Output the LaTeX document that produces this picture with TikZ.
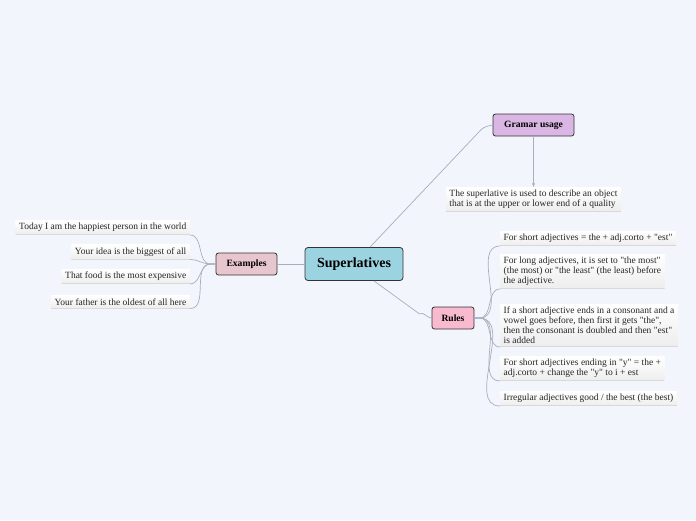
\documentclass[tikz,border=0pt]{standalone}
\usepackage{fontspec}
\setmainfont{Liberation Serif}[Ligatures=TeXOff]
\definecolor{bgblue}{RGB}{243, 245, 252}
\definecolor{centralblue}{RGB}{155, 212, 224}
\definecolor{grampurple}{RGB}{218, 182, 228}
\definecolor{expink}{RGB}{232, 198, 206}
\definecolor{rulepink}{RGB}{248, 186, 206}
\definecolor{linkgray}{RGB}{168, 174, 188}
\usetikzlibrary{arrows.meta, positioning, calc}

\begin{document}
\begin{tikzpicture}[x=1pt, y=-1pt,
  central/.style={draw=black!80, fill=centralblue, rounded corners=3pt, line width=0.8pt,
    minimum width=98pt, minimum height=33pt, font=\fontsize{14}{16}\selectfont\bfseries},
  topic/.style={draw=black!80, rounded corners=2.5pt, line width=0.8pt,
    minimum height=22pt, inner xsep=2pt, font=\fontsize{9.6}{11}\selectfont\bfseries},
  leaf/.style={top color=white, bottom color=black!7, draw=none, inner xsep=3.5pt, inner ysep=3pt,
    font=\fontsize{9.5}{10}\selectfont, text=black!85,
    path picture={\draw[black!15, line width=1.2pt] (path picture bounding box.south west) -- (path picture bounding box.south east);}},
  link/.style={draw=linkgray, line width=0.7pt},
]
  \fill[bgblue] (0,0) rectangle (696,520);
  \useasboundingbox (0,0) rectangle (696,520);

  % main topics
  \node[central] (super) at (354,264) {Superlatives};
  \node[topic, fill=grampurple, minimum width=81pt] (gram) at (533.5,125) {Gramar usage};
  \node[topic, fill=expink, minimum width=61pt] (ex) at (246.5,264) {Examples};
  \node[topic, fill=rulepink, minimum width=42pt] (rules) at (453,318) {Rules};

  % grammar note
  \node[leaf, anchor=north, align=left] (gramtext) at (533.5,187)
    {The superlative is used to describe an object\\that is at the upper or lower end of a quality};

  % examples
  \node[leaf, anchor=south east] (ex1) at (190,235) {Today I am the happiest person in the world};
  \node[leaf, anchor=south east] (ex2) at (190,259.5) {Your idea is the biggest of all};
  \node[leaf, anchor=south east] (ex3) at (190,284) {That food is the most expensive};
  \node[leaf, anchor=south east] (ex4) at (190,308.5) {Your father is the oldest of all here};

  % rules
  \node[leaf, anchor=south west] (r1) at (500,246) {For short adjectives = the + adj.corto + "est"};
  \node[leaf, anchor=south west, align=left] (r2) at (500,289)
    {For long adjectives, it is set to "the most"\\(the most) or "the least" (the least) before\\the adjective.};
  \node[leaf, anchor=south west, align=left] (r3) at (500,347)
    {If a short adjective ends in a consonant and a\\vowel goes before, then first it gets "the",\\then the consonant is doubled and then "est"\\is added};
  \node[leaf, anchor=south west, align=left] (r4) at (500,381)
    {For short adjectives ending in "y" = the +\\adj.corto + change the "y" to i + est};
  \node[leaf, anchor=south west] (r5) at (500,406) {Irregular adjectives good / the best (the best)};

  % connectors
  \draw[link, rounded corners=4pt] ([xshift=16pt]super.north) -- ($(gram.west)+(-9,2)$) -- (gram.west);
  \draw[link] ([xshift=20pt]super.south) -- ($(rules.west)+(-12,-4)$) to[out=35,in=180] (rules.west);
  \draw[link] (super.west) -- (ex.west -| ex.east);
  \draw[link, -{Stealth[length=4pt,width=3pt]}] (gram.south) -- (gramtext.north);
  \foreach \leafname in {ex1,ex2,ex3,ex4}
    \draw[link] (ex.west) -- ++(-5,0) to[out=180,in=0] (\leafname.south east);
  \foreach \leafname in {r1,r2,r3,r4,r5}
    \draw[link] (rules.east) -- ++(5,0) to[out=0,in=180] (\leafname.south west);
\end{tikzpicture}
\end{document}
